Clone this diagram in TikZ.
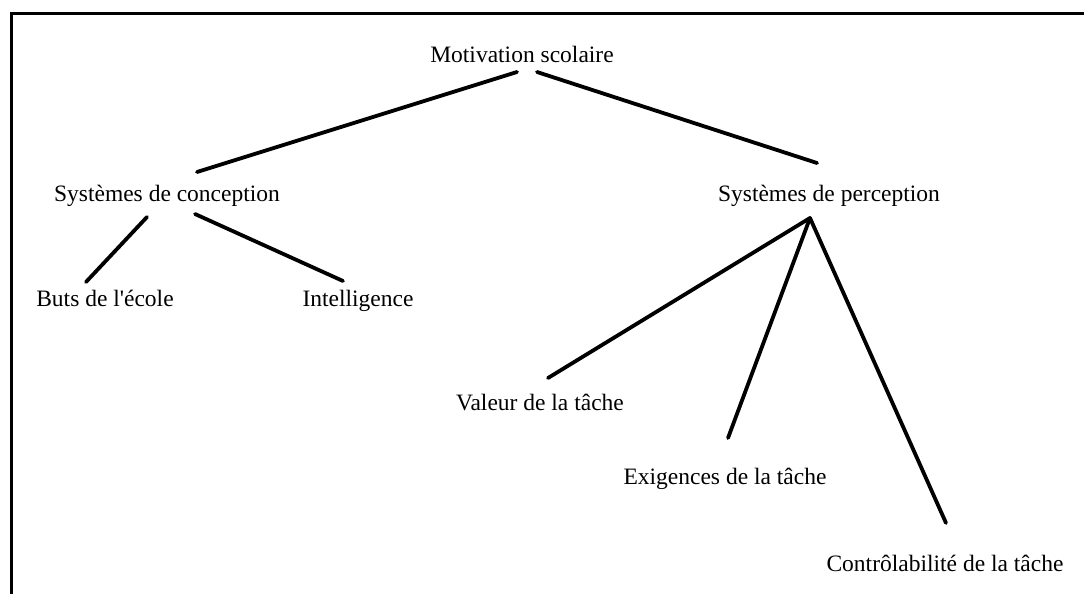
\documentclass[tikz,border=0pt]{standalone}
\usepackage{fontspec}
\newfontfamily\lblfont{Liberation Serif}
\begin{document}
\begin{tikzpicture}[x=1pt,y=-1pt,
  lbl/.style={inner sep=0pt, text height=0.68em, text depth=0.22em,
    font=\lblfont\fontsize{23.5}{28}\selectfont},
  link/.style={line width=3.8pt, line cap=round},
  frame/.style={line width=3pt}]
\useasboundingbox (0,0) rectangle (1084,594);
% frame
\coordinate (ftr) at (1084,14);
\coordinate (ftl) at (11,14);
\coordinate (fbl) at (11,594);
\draw[frame] (ftr) -- (ftl) -- (fbl);
% labels
\node[lbl] (ms) at (522,60) {Motivation scolaire};
\node[lbl] (sc) at (167,199) {Systèmes de conception};
\node[lbl] (sp) at (829,199) {Systèmes de perception};
\node[lbl] (be) at (105,304) {Buts de l'école};
\node[lbl] (in) at (358,304) {Intelligence};
\node[lbl] (vt) at (540,408) {Valeur de la tâche};
\node[lbl] (et) at (725,482) {Exigences de la tâche};
\node[lbl] (ct) at (945,569) {Contrôlabilité de la tâche};
% connector end points
\coordinate (ms1) at (517,72);
\coordinate (ms2) at (537,72);
\coordinate (sc0) at (197,172);
\coordinate (sp0) at (817,163);
\coordinate (sc1) at (147,217);
\coordinate (sc2) at (195,214);
\coordinate (be0) at (86,282);
\coordinate (in0) at (343,281);
\coordinate (spa) at (810,218);
\coordinate (vt0) at (548,378);
\coordinate (et0) at (728,438);
\coordinate (ct0) at (946,523);
% connectors
\draw[link] (ms1) -- (sc0);
\draw[link] (ms2) -- (sp0);
\draw[link] (sc1) -- (be0);
\draw[link] (sc2) -- (in0);
\draw[link] (spa) -- (vt0);
\draw[link] (spa) -- (et0);
\draw[link] (spa) -- (ct0);
\end{tikzpicture}
\end{document}
